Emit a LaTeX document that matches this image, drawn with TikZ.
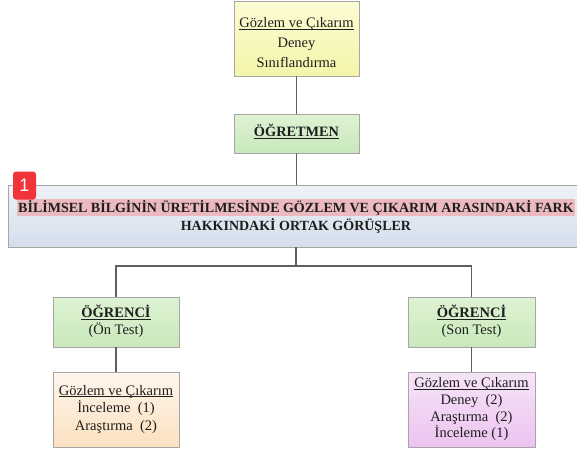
\documentclass[tikz,border=0pt]{standalone}
\usepackage{fontspec}
\setmainfont{Liberation Serif}
\newfontfamily\badgefont{Liberation Sans}
\usetikzlibrary{shadows}
\definecolor{bordc}{RGB}{166,166,166}
\definecolor{linec}{RGB}{95,95,95}
\definecolor{hlc}{RGB}{235,185,190}
\definecolor{ytop}{RGB}{252,252,212}
\definecolor{ybot}{RGB}{244,244,170}
\definecolor{gtop}{RGB}{222,243,212}
\definecolor{gbot}{RGB}{200,232,186}
\definecolor{btop}{RGB}{238,242,248}
\definecolor{bbot}{RGB}{212,222,236}
\definecolor{ptop}{RGB}{253,246,236}
\definecolor{pbot}{RGB}{251,224,192}
\definecolor{ltop}{RGB}{247,228,248}
\definecolor{lbot}{RGB}{236,196,240}
\definecolor{badgec}{RGB}{240,52,58}
\definecolor{txtc}{RGB}{30,30,30}
\newcommand\myul[1]{\underline{\vphantom{A}\smash{#1}}}
\tikzset{
  boxbase/.style={draw=bordc, line width=0.8pt, rectangle, align=center,
    inner sep=0pt, text=txtc,
    drop shadow={opacity=0.25, shadow xshift=1.2pt, shadow yshift=-1.2pt}},
  yellowbox/.style={boxbase, top color=ytop, bottom color=ybot},
  greenbox/.style={boxbase, top color=gtop, bottom color=gbot},
  bluebox/.style={boxbase, top color=btop, bottom color=bbot},
  peachbox/.style={boxbase, top color=ptop, bottom color=pbot},
  lilacbox/.style={boxbase, top color=ltop, bottom color=lbot},
  txt/.style={align=center, inner sep=0pt, text=txtc},
  conn/.style={draw=linec, line width=1.8pt},
}
\begin{document}
\begin{tikzpicture}[x=1pt,y=1pt]
\useasboundingbox (0,0) rectangle (577,-448);
\clip (0,0) rectangle (577,-448);
\coordinate (j) at (296,-266);
% boxes
\node[yellowbox, minimum width=125, minimum height=75] (top) at (296.5,-38.5) {};
\node[greenbox, minimum width=125, minimum height=39] (teacher) at (296.5,-133.5) {};
\node[bluebox, minimum width=576, minimum height=62] (big) at (296,-216) {};
\node[greenbox, minimum width=126, minimum height=50] (lo) at (116,-322) {};
\node[greenbox, minimum width=127, minimum height=50] (ro) at (471.5,-322) {};
\node[peachbox, minimum width=126, minimum height=75] (lb) at (116,-409.5) {};
\node[lilacbox, minimum width=127, minimum height=75] (rb) at (471.5,-409.5) {};
% texts
\node[txt, font=\fontsize{14.5}{20}\selectfont] (toptxt) at (296.5,-43)
  {\myul{Gözlem ve Çıkarım}\\Deney\\Sınıflandırma};
\node[txt, font=\fontsize{14.3}{19}\selectfont] (teachertxt) at (296.5,-133)
  {\textbf{\myul{ÖĞRETMEN}}};
\node[txt, font=\fontsize{14}{19}\selectfont] (bigtxt) at (296,-216)
  {\setlength\fboxsep{1pt}\colorbox{hlc}{\textbf{BİLİMSEL BİLGİNİN ÜRETİLMESİNDE GÖZLEM VE ÇIKARIM ARASINDAKİ FARK}}\\[-1pt]\textbf{HAKKINDAKİ ORTAK GÖRÜŞLER}};
\node[txt, font=\fontsize{14.5}{17}\selectfont] (lotxt) at (116,-323)
  {\textbf{\myul{ÖĞRENCİ}}\\(Ön Test)};
\node[txt, font=\fontsize{14.5}{17}\selectfont] (rotxt) at (471.5,-323)
  {\textbf{\myul{ÖĞRENCİ}}\\(Son Test)};
\node[txt, font=\fontsize{14.5}{17.5}\selectfont] (lbtxt) at (116,-409.5)
  {\myul{Gözlem ve Çıkarım}\\İnceleme\ \ (1)\\Araştırma\ \ (2)};
\node[txt, font=\fontsize{14.5}{16.7}\selectfont] (rbtxt) at (471.5,-409.5)
  {\myul{Gözlem ve Çıkarım}\\Deney\ \ (2)\\Araştırma\ \ (2)\\İnceleme (1)};
% connectors
\draw[conn] (top.south) -- (top.south |- teacher.north);
\draw[conn] (teacher.south) -- (teacher.south |- big.north);
\draw[conn] (big.south) -- (j);
\draw[conn] (lo.north) |- (j) -| (ro.north);
\draw[conn] (lo.south) -- (lb.north);
\draw[conn] (ro.south) -- (rb.north);
\node[fill=badgec, rounded corners=3pt, minimum width=23, minimum height=28,
  inner sep=0pt, text=white, font=\badgefont\fontsize{18}{18}\selectfont] (badge) at (24.5,-185.5) {1};
\end{tikzpicture}
\end{document}
